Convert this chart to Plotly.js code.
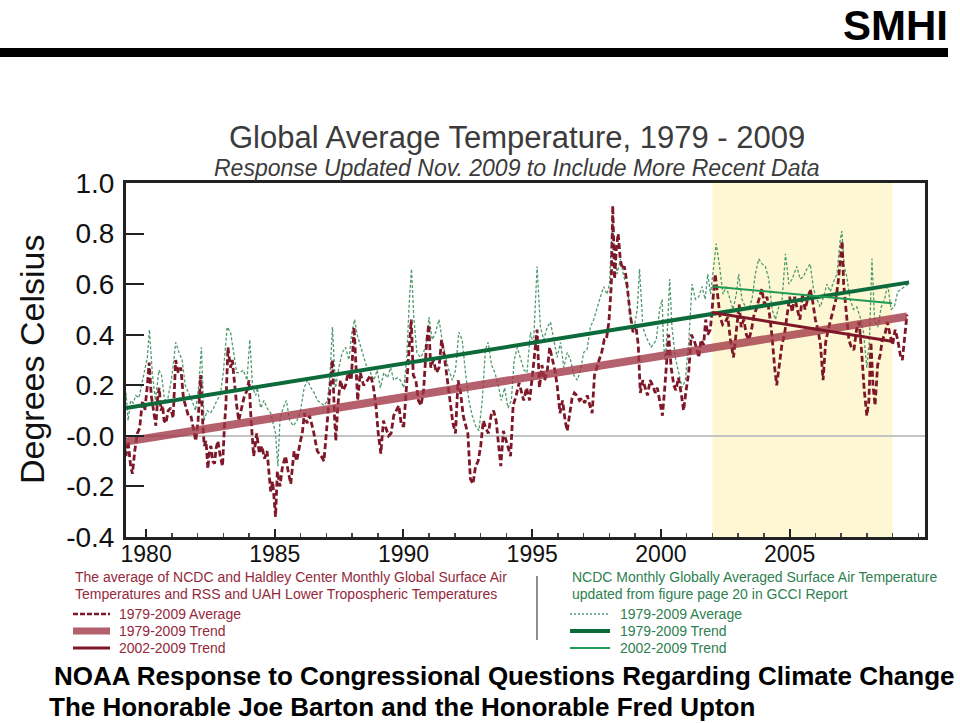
<!DOCTYPE html>
<html>
<head>
<meta charset="utf-8">
<script src="https://cdn.plot.ly/plotly-3.0.1.min.js"></script>
<style>
html,body{margin:0;padding:0;background:#fff;}
#chart{width:960px;height:723px;}
</style>
</head>
<body>
<div id="chart"></div>
<script>
// ---- Data: average of NCDC/Hadley surface + RSS/UAH tropospheric (red) ----
const redYears = [1979.15,1979.22,1979.30,1979.40,1979.47,1979.56,1979.66,1979.75,1979.86,1979.95,
1980.05,1980.12,1980.20,1980.26,1980.32,1980.38,1980.45,1980.51,1980.58,1980.64,1980.70,1980.77,1980.86,1980.96,
1981.05,1981.15,1981.25,1981.35,1981.45,1981.54,1981.64,1981.74,1981.84,1981.93,
1982.02,1982.12,1982.20,1982.26,1982.33,1982.40,1982.46,1982.52,1982.59,1982.66,1982.72,1982.79,1982.88,1982.97,
1983.05,1983.10,1983.18,1983.28,1983.35,1983.42,1983.52,1983.60,1983.70,1983.80,1983.92,
1984.00,1984.08,1984.18,1984.30,1984.40,1984.50,1984.60,1984.70,1984.84,1984.92,
1985.03,1985.10,1985.20,1985.30,1985.42,1985.52,1985.62,1985.75,1985.85,1985.98,
1986.08,1986.15,1986.25,1986.35,1986.50,1986.65,1986.80,1986.91,
1987.05,1987.15,1987.24,1987.32,1987.37,1987.45,1987.55,1987.65,1987.75,1987.85,1987.97,
1988.08,1988.15,1988.22,1988.32,1988.45,1988.60,1988.72,1988.82,1988.92,
1989.02,1989.12,1989.22,1989.32,1989.42,1989.52,1989.62,1989.72,1989.82,1989.92,
1990.01,1990.12,1990.21,1990.30,1990.38,1990.48,1990.58,1990.68,1990.78,1990.90,1990.98,
1991.06,1991.16,1991.28,1991.38,1991.48,1991.58,1991.70,1991.80,1991.92,
1992.02,1992.12,1992.22,1992.32,1992.42,1992.50,1992.60,1992.70,1992.80,1992.90,
1993.00,1993.10,1993.20,1993.30,1993.40,1993.50,1993.60,1993.70,1993.78,1993.88,1993.98,
1994.08,1994.16,1994.26,1994.38,1994.49,1994.58,1994.67,1994.78,1994.90,
1995.02,1995.12,1995.19,1995.28,1995.38,1995.48,1995.58,1995.68,1995.78,1995.88,1995.97,
1996.08,1996.18,1996.28,1996.36,1996.46,1996.55,1996.64,1996.74,1996.84,1996.94,
1997.04,1997.14,1997.24,1997.33,1997.42,1997.52,1997.60,1997.70,1997.80,1997.88,1997.98,
1998.07,1998.13,1998.20,1998.27,1998.34,1998.42,1998.50,1998.58,1998.66,1998.74,1998.82,1998.92,
1999.02,1999.12,1999.20,1999.30,1999.40,1999.48,1999.58,1999.68,1999.78,1999.86,1999.95,
2000.06,2000.15,2000.30,2000.40,2000.50,2000.58,2000.68,2000.80,2000.88,2000.98,
2001.08,2001.18,2001.28,2001.38,2001.47,2001.56,2001.66,2001.74,2001.82,2001.92,
2002.02,2002.11,2002.20,2002.30,2002.40,2002.50,2002.60,2002.70,2002.82,2002.92,
2003.04,2003.12,2003.22,2003.32,2003.42,2003.52,2003.62,2003.70,2003.80,2003.92,
2004.02,2004.12,2004.22,2004.32,2004.42,2004.50,2004.60,2004.70,2004.80,2004.90,
2005.00,2005.10,2005.20,2005.30,2005.40,2005.50,2005.60,2005.70,2005.80,2005.90,
2006.00,2006.10,2006.20,2006.30,2006.40,2006.50,2006.60,2006.70,2006.80,2006.90,2006.98,
2007.04,2007.10,2007.20,2007.30,2007.40,2007.50,2007.60,2007.70,2007.80,2007.90,
2008.00,2008.08,2008.16,2008.24,2008.32,2008.42,2008.52,2008.60,2008.70,2008.80,2008.90,
2009.00,2009.10,2009.20,2009.30,2009.38,2009.46,2009.56];
const redValues = [-0.04,-0.08,-0.02,-0.12,-0.15,-0.06,0.01,0.03,0.14,0.10,
0.20,0.29,0.16,0.12,0.09,0.04,0.15,0.19,0.10,0.12,0.06,0.05,0.10,0.11,
0.07,0.30,0.25,0.27,0.15,0.12,0.08,0.08,0.03,-0.02,
0.06,0.24,0.05,-0.04,-0.02,-0.13,-0.06,-0.04,-0.10,-0.11,-0.05,-0.02,-0.08,-0.12,
0.05,0.12,0.35,0.27,0.30,0.22,0.12,0.06,0.10,0.15,0.18,
0.22,0.06,-0.08,0.01,-0.07,-0.04,-0.09,-0.06,-0.22,-0.18,
-0.32,-0.14,-0.20,-0.12,-0.08,-0.14,-0.19,-0.06,-0.10,-0.03,
0.02,0.09,0.05,0.08,0.02,-0.06,-0.08,-0.10,
0.06,0.18,0.30,0.08,-0.02,0.12,0.22,0.18,0.20,0.25,0.22,
0.43,0.31,0.14,0.25,0.20,0.22,0.24,0.20,0.13,
0.01,-0.07,0.06,0.03,0.00,0.01,0.08,0.10,0.12,0.04,
0.04,0.20,0.33,0.46,0.24,0.22,0.14,0.12,0.18,0.37,0.44,
0.27,0.30,0.25,0.27,0.38,0.32,0.22,0.14,0.05,
0.01,0.22,0.17,0.08,0.04,0.01,-0.17,-0.19,-0.12,-0.10,
-0.04,0.06,0.03,0.01,0.08,0.10,0.06,-0.05,-0.12,0.02,-0.02,
-0.05,-0.08,0.12,0.16,0.21,0.18,0.14,0.19,0.14,
0.25,0.34,0.42,0.19,0.28,0.22,0.25,0.35,0.30,0.26,0.20,
0.09,0.14,0.06,0.02,0.10,0.15,0.17,0.16,0.14,0.15,
0.13,0.16,0.12,0.09,0.24,0.28,0.30,0.33,0.38,0.38,0.45,
0.59,0.91,0.62,0.74,0.80,0.70,0.66,0.67,0.62,0.55,0.47,0.41,
0.44,0.36,0.17,0.22,0.19,0.16,0.22,0.20,0.17,0.19,0.14,
0.08,0.19,0.40,0.27,0.20,0.18,0.23,0.16,0.10,0.18,
0.25,0.40,0.38,0.35,0.31,0.38,0.36,0.46,0.40,0.42,
0.54,0.64,0.56,0.47,0.44,0.45,0.47,0.38,0.31,0.42,
0.52,0.43,0.46,0.40,0.38,0.42,0.48,0.50,0.54,0.58,
0.52,0.55,0.48,0.39,0.27,0.20,0.28,0.36,0.40,0.48,
0.55,0.49,0.55,0.50,0.46,0.56,0.50,0.54,0.58,0.53,
0.46,0.42,0.36,0.22,0.37,0.42,0.46,0.50,0.54,0.62,0.70,
0.77,0.60,0.50,0.38,0.35,0.34,0.42,0.45,0.33,0.18,
0.08,0.14,0.37,0.20,0.12,0.28,0.32,0.38,0.40,0.45,0.40,
0.36,0.42,0.38,0.32,0.30,0.38,0.48];

// ---- Data: NCDC monthly globally averaged surface air temperature (green) ----
const greenYears = [1979.15,1979.22,1979.30,1979.40,1979.50,1979.60,1979.72,1979.85,
1980.00,1980.05,1980.13,1980.24,1980.36,1980.50,1980.60,1980.72,1980.85,1980.98,
1981.08,1981.15,1981.28,1981.40,1981.52,1981.65,1981.78,1981.92,
1982.05,1982.15,1982.25,1982.38,1982.50,1982.62,1982.75,1982.88,
1983.00,1983.15,1983.28,1983.40,1983.52,1983.65,1983.78,1983.92,
1984.03,1984.14,1984.26,1984.32,1984.45,1984.58,1984.70,1984.84,
1985.03,1985.12,1985.20,1985.32,1985.45,1985.58,1985.72,1985.86,
1986.00,1986.14,1986.27,1986.40,1986.53,1986.66,1986.79,1986.92,
1987.05,1987.15,1987.24,1987.36,1987.49,1987.62,1987.75,1987.88,1987.98,
1988.10,1988.20,1988.32,1988.45,1988.58,1988.72,1988.85,1988.98,
1989.10,1989.24,1989.38,1989.50,1989.62,1989.76,1989.88,
1990.01,1990.12,1990.23,1990.31,1990.40,1990.52,1990.65,1990.78,1990.92,1990.99,
1991.12,1991.25,1991.38,1991.50,1991.64,1991.76,1991.90,
1992.02,1992.15,1992.28,1992.41,1992.54,1992.67,1992.80,1992.93,
1993.06,1993.18,1993.29,1993.42,1993.55,1993.68,1993.80,1993.93,
1994.06,1994.19,1994.30,1994.42,1994.55,1994.68,1994.80,1994.93,
1995.05,1995.12,1995.19,1995.32,1995.45,1995.58,1995.71,1995.84,1995.97,
1996.10,1996.23,1996.36,1996.49,1996.62,1996.75,1996.88,
1997.00,1997.13,1997.26,1997.39,1997.52,1997.65,1997.78,1997.91,
1998.00,1998.11,1998.20,1998.30,1998.43,1998.56,1998.69,1998.82,1998.95,
1999.08,1999.17,1999.30,1999.43,1999.62,1999.82,1999.95,
2000.05,2000.10,2000.16,2000.26,2000.34,2000.43,2000.56,2000.69,2000.82,2000.95,
2001.08,2001.21,2001.34,2001.47,2001.60,2001.72,2001.82,2001.93,
2002.04,2002.15,2002.28,2002.41,2002.54,2002.67,2002.80,2002.93,
2003.02,2003.15,2003.28,2003.41,2003.54,2003.67,2003.80,2003.93,
2004.06,2004.19,2004.32,2004.45,2004.58,2004.71,2004.84,2004.97,
2005.10,2005.28,2005.41,2005.54,2005.67,2005.80,2005.93,
2006.06,2006.19,2006.32,2006.45,2006.58,2006.71,2006.84,2006.96,
2007.03,2007.12,2007.22,2007.35,2007.48,2007.61,2007.74,2007.87,
2008.00,2008.10,2008.20,2008.30,2008.43,2008.56,2008.69,2008.81,2008.94,
2009.07,2009.20,2009.33,2009.49,2009.60];
const greenValues = [0.09,0.17,0.06,0.14,0.13,0.16,0.15,0.21,
0.28,0.31,0.42,0.25,0.14,0.26,0.24,0.14,0.15,0.22,
0.30,0.37,0.33,0.30,0.20,0.17,0.14,0.10,
0.20,0.35,0.06,0.10,0.09,0.11,0.14,0.16,
0.25,0.43,0.41,0.33,0.25,0.25,0.26,0.22,
0.38,0.19,0.16,0.19,0.11,0.14,0.11,0.09,
0.01,-0.12,0.06,0.11,0.14,0.06,0.04,0.06,
0.10,0.19,0.22,0.19,0.17,0.14,0.13,0.12,
0.14,0.25,0.43,0.19,0.27,0.33,0.35,0.30,0.40,
0.46,0.40,0.36,0.31,0.27,0.25,0.22,0.26,
0.19,0.25,0.23,0.27,0.22,0.23,0.22,
0.19,0.30,0.54,0.66,0.47,0.33,0.31,0.33,0.38,0.47,
0.38,0.41,0.46,0.38,0.31,0.26,0.22,
0.26,0.41,0.38,0.25,0.14,0.08,0.04,0.02,
0.14,0.34,0.37,0.28,0.25,0.20,0.14,0.19,
0.11,0.14,0.30,0.35,0.30,0.26,0.25,0.41,
0.36,0.54,0.67,0.43,0.38,0.43,0.45,0.38,0.31,
0.37,0.27,0.33,0.30,0.24,0.22,0.26,
0.33,0.34,0.43,0.46,0.51,0.55,0.59,0.56,
0.60,0.84,0.74,0.64,0.70,0.63,0.59,0.47,0.42,
0.50,0.66,0.43,0.39,0.35,0.38,0.50,
0.54,0.37,0.30,0.43,0.62,0.43,0.31,0.25,0.19,0.22,
0.37,0.60,0.54,0.55,0.59,0.54,0.64,0.56,
0.67,0.76,0.67,0.56,0.59,0.54,0.50,0.56,
0.64,0.54,0.51,0.50,0.54,0.64,0.70,0.68,
0.67,0.62,0.50,0.46,0.51,0.54,0.72,0.60,
0.62,0.67,0.62,0.63,0.66,0.68,0.58,
0.54,0.51,0.55,0.60,0.57,0.61,0.64,0.77,
0.81,0.67,0.63,0.54,0.50,0.51,0.47,0.41,
0.27,0.38,0.70,0.46,0.43,0.51,0.54,0.60,0.50,
0.51,0.57,0.58,0.59,0.60];

// ---- Trend lines (start/end year and value) ----
const redTrendYears = [1979.22, 2009.56];
const redTrendValues = [-0.023, 0.472];
const redRecentTrendYears = [2001.99, 2009.02];
const redRecentTrendValues = [0.488, 0.373];
const greenTrendYears = [1979.22, 2009.64];
const greenTrendValues = [0.11, 0.607];
const greenRecentTrendYears = [2001.99, 2008.98];
const greenRecentTrendValues = [0.591, 0.524];
const highlightYears = [2002, 2009];

// ---- Tick labels ----
const xTickYears = [1980, 1985, 1990, 1995, 2000, 2005];
const yTickValues = [-0.4, -0.2, 0.0, 0.2, 0.4, 0.6, 0.8, 1.0];
const yTickLabels = ['-0.4', '-0.2', '-0.0', '0.2', '0.4', '0.6', '0.8', '1.0'];

// ---- Colours ----
const RED_DARK = '#7e1829';
const RED_TREND = 'rgba(160,52,68,0.78)';
const GREEN_DASH = '#4f9a70';
const GREEN_TREND = '#0d6a3a';
const GREEN_RECENT = '#239a55';
const RED_TEXT = '#93293b';
const GREEN_TEXT = '#2e8050';

const SANS = 'Liberation Sans, Arial, sans-serif';

const traces = [
  {x: greenYears, y: greenValues, mode: 'lines', line: {color: GREEN_DASH, width: 1.3, dash: '3px,2px'}},
  {x: redYears, y: redValues, mode: 'lines', line: {color: RED_DARK, width: 2.8, dash: '6px,3px'}},
  {x: redTrendYears, y: redTrendValues, mode: 'lines', line: {color: RED_TREND, width: 8}},
  {x: greenTrendYears, y: greenTrendValues, mode: 'lines', line: {color: GREEN_TREND, width: 4}},
  {x: greenRecentTrendYears, y: greenRecentTrendValues, mode: 'lines', line: {color: GREEN_RECENT, width: 2}},
  {x: redRecentTrendYears, y: redRecentTrendValues, mode: 'lines', line: {color: RED_DARK, width: 3}}
];

// paper-coordinate helpers (plot area: x 126..925, y 183..537 in page pixels)
const L = 126, R = 35, T = 183, B = 186;
const PW = 960 - L - R, PH = 723 - T - B;
const px = v => (v - L) / PW;
const py = v => (723 - B - v) / PH;

function txt(text, x, y, opts) {
  return Object.assign({
    text: text, x: px(x), y: py(y), xref: 'paper', yref: 'paper',
    showarrow: false, xanchor: 'left', yanchor: 'middle'
  }, opts);
}

const annotations = [
  txt('<b>SMHI</b>', 895, 26, {xanchor: 'center', font: {family: SANS, size: 42, color: '#000'}}),
  txt('Global Average Temperature, 1979 - 2009', 517, 137, {xanchor: 'center', font: {family: SANS, size: 31, color: '#3b3b3b'}}),
  txt('<i>Response Updated Nov. 2009 to Include More Recent Data</i>', 517, 168, {xanchor: 'center', font: {family: SANS, size: 23, color: '#3b3b3b'}}),
  txt('Degrees Celsius', 32, 360, {xanchor: 'center', textangle: -90, font: {family: SANS, size: 34, color: '#111'}}),
  txt('The average of NCDC and Haldley Center Monthly Global Surface Air', 73, 577, {font: {family: SANS, size: 14, color: RED_TEXT}}),
  txt('Temperatures and RSS and UAH Lower Tropospheric Temperatures', 73, 594, {font: {family: SANS, size: 14, color: RED_TEXT}}),
  txt('1979-2009 Average', 117, 614, {font: {family: SANS, size: 14, color: RED_TEXT}}),
  txt('1979-2009 Trend', 117, 631, {font: {family: SANS, size: 14, color: RED_TEXT}}),
  txt('2002-2009 Trend', 117, 648, {font: {family: SANS, size: 14, color: RED_TEXT}}),
  txt('NCDC Monthly Globally Averaged Surface Air Temperature', 570, 577, {font: {family: SANS, size: 14, color: GREEN_TEXT}}),
  txt('updated from figure page 20 in GCCI Report', 570, 594, {font: {family: SANS, size: 14, color: GREEN_TEXT}}),
  txt('1979-2009 Average', 618, 614, {font: {family: SANS, size: 14, color: GREEN_TEXT}}),
  txt('1979-2009 Trend', 618, 631, {font: {family: SANS, size: 14, color: GREEN_TEXT}}),
  txt('2002-2009 Trend', 618, 648, {font: {family: SANS, size: 14, color: GREEN_TEXT}}),
  txt('<b>NOAA Response to Congressional Questions Regarding Climate Change</b>', 52, 676, {font: {family: SANS, size: 26, color: '#000'}}),
  txt('<b>The Honorable Joe Barton and the Honorable Fred Upton</b>', 47, 707, {font: {family: SANS, size: 26, color: '#000'}})
];

function seg(x0, y0, x1, y1, line) {
  return {type: 'line', xref: 'paper', yref: 'paper', x0: px(x0), y0: py(y0), x1: px(x1), y1: py(y1), line: line};
}

const shapes = [
  {type: 'rect', xref: 'x', yref: 'paper', x0: highlightYears[0], x1: highlightYears[1], y0: 0, y1: 1,
   fillcolor: '#fdf8d3', line: {width: 0}, layer: 'below'},
  {type: 'rect', xref: 'paper', yref: 'paper', x0: px(0), x1: px(948), y0: py(57), y1: py(48),
   fillcolor: '#000', line: {width: 0}},
  seg(537, 576, 537, 640, {color: '#444', width: 1.2}),
  seg(73, 614, 110, 614, {color: RED_DARK, width: 2.5, dash: '5px,2px'}),
  seg(73, 631, 110, 631, {color: RED_TREND, width: 7}),
  seg(73, 648, 110, 648, {color: RED_DARK, width: 3}),
  seg(570, 614, 610, 614, {color: GREEN_DASH, width: 1.3, dash: '2px,2px'}),
  seg(570, 631, 610, 631, {color: GREEN_TREND, width: 4}),
  seg(570, 648, 610, 648, {color: GREEN_RECENT, width: 2})
];

const layout = {
  width: 960, height: 723,
  margin: {l: L, r: R, t: T, b: B, pad: 0},
  paper_bgcolor: '#fff', plot_bgcolor: '#fff',
  showlegend: false,
  xaxis: {
    range: [1979.22, 2010.26], tickvals: xTickYears, ticktext: xTickYears.map(String),
    ticks: 'inside', ticklen: 8, tickwidth: 2, tickcolor: '#222',
    minor: {dtick: 1, tick0: 1980, ticks: 'inside', ticklen: 4, tickwidth: 1.5, tickcolor: '#444', showgrid: false},
    showgrid: false, zeroline: false, showline: true, mirror: true, linecolor: '#222', linewidth: 3,
    ticklabelstandoff: -6,
    tickfont: {family: SANS, size: 23, color: '#111'}
  },
  yaxis: {
    range: [-0.4, 1.0], tickvals: yTickValues, ticktext: yTickLabels,
    ticks: 'inside', ticklen: 18, tickwidth: 2, tickcolor: '#222',
    showgrid: false, zeroline: true, zerolinecolor: '#c4c4c4', zerolinewidth: 2,
    showline: true, mirror: true, linecolor: '#222', linewidth: 3,
    ticklabelstandoff: 3,
    tickfont: {family: SANS, size: 28, color: '#111'}
  },
  annotations: annotations,
  shapes: shapes
};

Plotly.newPlot('chart', traces, layout, {staticPlot: true, displayModeBar: false});
</script>
</body>
</html>
